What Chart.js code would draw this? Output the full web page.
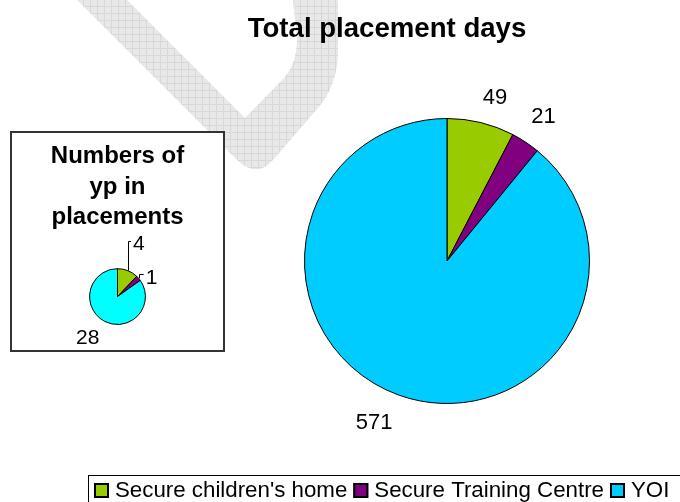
<!DOCTYPE html>
<html>
<head>
<meta charset="utf-8">
<title>Total placement days</title>
<script src="https://cdn.jsdelivr.net/npm/chart.js@4.4.1/dist/chart.umd.min.js"></script>
<style>
  body { margin: 0; background: #fff; }
  #wrap { position: relative; width: 680px; height: 502px; overflow: hidden; }
  #days { position: absolute; left: 0; top: 0; }
  #inset {
    position: absolute; left: 10px; top: 131px; width: 215px; height: 221px;
    box-sizing: border-box; border: 2px solid #333; background: #fff;
  }
  #yp { position: absolute; left: 0; top: 0; }
</style>
</head>
<body>
<div id="wrap">
  <canvas id="days" width="680" height="502"></canvas>
  <div id="inset"><canvas id="yp" width="211" height="217"></canvas></div>
</div>
<script>
// dati
var categories = ["Secure children's home", "Secure Training Centre", "YOI"];
var placementDays = [49, 21, 571];
var youngPeople = [4, 1, 28];
var daysColours = ['#99CC00', '#800080', '#00CCFF'];
var ypColours = ['#99CC00', '#800080', '#00FFFF'];

var FONT = "'Liberation Sans', Arial, sans-serif";

// spostamento delle etichette rispetto al bordo della fetta (come in excel)
var daysLabelShift = [[14, -25], [18, -25], [-25, 28]];
var ypLabelShift = [[11, -26], [13, 0], [-17, 17]];
var ypLeader = [true, true, false];

function arcPoint(arc) {
  var mid = (arc.startAngle + arc.endAngle) / 2;
  return {
    x: arc.x + Math.cos(mid) * arc.outerRadius,
    y: arc.y + Math.sin(mid) * arc.outerRadius
  };
}

function drawValueLabels(chart, shifts, leaders, size) {
  var ctx = chart.ctx;
  var meta = chart.getDatasetMeta(0);
  var values = chart.data.datasets[0].data;
  ctx.save();
  ctx.font = size + 'px ' + FONT;
  ctx.fillStyle = '#000';
  ctx.strokeStyle = '#000';
  ctx.lineWidth = 1;
  ctx.textAlign = 'center';
  ctx.textBaseline = 'middle';
  for (var i = 0; i < meta.data.length; i++) {
    var p = arcPoint(meta.data[i]);
    var cx = p.x + shifts[i][0];
    var cy = p.y + shifts[i][1];
    var txt = String(values[i]);
    if (leaders && leaders[i]) {
      var w = ctx.measureText(txt).width;
      var lx = Math.round(p.x) + 0.5;
      var ey = Math.round(cy - 4) + 0.5;
      ctx.beginPath();
      ctx.moveTo(lx, p.y);
      ctx.lineTo(lx, ey);
      ctx.lineTo(cx - w / 2 - 2, ey);
      ctx.stroke();
    }
    ctx.fillText(txt, cx, cy);
  }
  ctx.restore();
}

// filigrana grigia a quadretti in alto a sinistra
function drawWatermark(ctx) {
  var tile = document.createElement('canvas');
  tile.width = 7; tile.height = 7;
  var t = tile.getContext('2d');
  t.fillStyle = '#e8e8e8';
  t.fillRect(0, 0, 7, 7);
  t.fillStyle = '#d8d8d8';
  t.fillRect(6, 0, 1, 7);
  t.fillRect(0, 6, 7, 1);
  ctx.save();
  ctx.fillStyle = ctx.createPattern(tile, 'repeat');
  ctx.beginPath();
  ctx.moveTo(77, 0);
  ctx.lineTo(238, 161);
  ctx.quadraticCurveTo(257, 178, 273, 160);
  ctx.lineTo(318, 108);
  ctx.quadraticCurveTo(338, 85, 338, 50);
  ctx.lineTo(338, 0);
  ctx.lineTo(293, 0);
  ctx.lineTo(297, 40);
  ctx.quadraticCurveTo(297, 62, 285, 77);
  ctx.lineTo(245, 118);
  ctx.lineTo(127, 0);
  ctx.closePath();
  ctx.fill();
  ctx.restore();
}

function drawTitle(ctx) {
  ctx.save();
  ctx.font = 'bold 27.6px ' + FONT;
  ctx.fillStyle = '#000';
  ctx.textAlign = 'center';
  ctx.textBaseline = 'alphabetic';
  ctx.fillText('Total placement days', 387, 37);
  ctx.restore();
}

function drawLegend(chart) {
  var ctx = chart.ctx;
  var labels = chart.data.labels;
  var colours = chart.data.datasets[0].backgroundColor;
  ctx.save();
  ctx.strokeStyle = '#000';
  ctx.lineWidth = 1;
  ctx.strokeRect(88.5, 475.5, 700, 60);
  ctx.font = '22.3px ' + FONT;
  ctx.textBaseline = 'middle';
  ctx.textAlign = 'left';
  var x = 94;
  for (var i = 0; i < labels.length; i++) {
    ctx.fillStyle = colours[i];
    ctx.fillRect(x, 483, 15, 15);
    ctx.strokeStyle = '#000';
    ctx.lineWidth = 2;
    ctx.strokeRect(x + 1, 484, 13, 13);
    ctx.fillStyle = '#000';
    ctx.fillText(labels[i], x + 21, 491);
    x = x + 21 + ctx.measureText(labels[i]).width + 6;
  }
  ctx.restore();
}

var daysPlugin = {
  id: 'daysExtras',
  beforeDraw: function(chart) {
    drawWatermark(chart.ctx);
    drawTitle(chart.ctx);
  },
  afterDatasetsDraw: function(chart) {
    drawValueLabels(chart, daysLabelShift, null, 22);
  },
  afterDraw: function(chart) {
    drawLegend(chart);
  }
};

var ypPlugin = {
  id: 'ypExtras',
  afterDatasetsDraw: function(chart) {
    drawValueLabels(chart, ypLabelShift, ypLeader, 21);
  }
};

function printDaysPie() {
  new Chart(document.getElementById('days'), {
    type: 'pie',
    data: {
      labels: categories,
      datasets: [{
        data: placementDays,
        backgroundColor: daysColours,
        borderColor: '#000',
        borderWidth: 1
      }]
    },
    options: {
      responsive: false,
      animation: false,
      devicePixelRatio: 1,
      layout: { padding: { left: 214, right: 0, top: 118, bottom: 98 } },
      plugins: {
        legend: { display: false },
        title: { display: false },
        tooltip: { enabled: false }
      }
    },
    plugins: [daysPlugin]
  });
}

function printYpPie() {
  new Chart(document.getElementById('yp'), {
    type: 'pie',
    data: {
      labels: categories,
      datasets: [{
        data: youngPeople,
        backgroundColor: ypColours,
        borderColor: '#000',
        borderWidth: 1
      }]
    },
    options: {
      responsive: false,
      animation: false,
      devicePixelRatio: 1,
      layout: { padding: { left: 0, right: 0, top: 0, bottom: 25 } },
      plugins: {
        legend: { display: false },
        tooltip: { enabled: false },
        title: {
          display: true,
          text: ['Numbers of', 'yp in', 'placements'],
          color: '#000',
          font: { family: FONT, size: 24, weight: 'bold', lineHeight: 1.28 },
          padding: { top: 8, bottom: 35 }
        }
      }
    },
    plugins: [ypPlugin]
  });
}

function init() {
  printDaysPie();
  printYpPie();
}

init();
</script>
</body>
</html>
